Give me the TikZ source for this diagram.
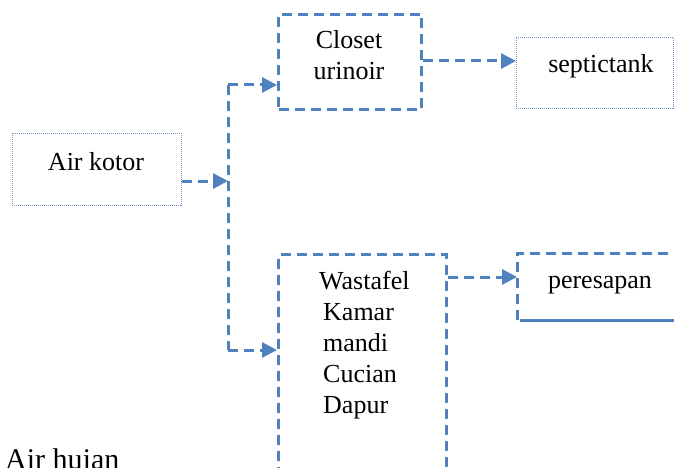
\documentclass[tikz,border=0pt]{standalone}
\usepackage{fontspec}
\setmainfont{Liberation Serif}
\usetikzlibrary{arrows.meta,positioning}
\definecolor{garis}{RGB}{79,129,189}
\definecolor{titikbiru}{RGB}{110,150,200}
\tikzset{
	teks/.style={font=\fontsize{26}{31}\selectfont,inner sep=0pt},
	titik/.style={draw=titikbiru,line width=0.9pt,dash pattern=on 1pt off 1pt,anchor=north west},
	putus/.style={draw=garis,line width=3pt,dash pattern=on 10pt off 6pt},
	kotak/.style={putus,anchor=north west},
	alir/.style={putus,-{Triangle[length=15pt,width=15pt]}}
}
\begin{document}
\begin{tikzpicture}[x=1pt,y=-1pt,line cap=butt]
	\clip (0,0) rectangle (674,468);
	% kotak-kotak
	\node[titik,minimum width=169pt,minimum height=72pt] (kotor) at (12,133) {};
	\node[kotak,minimum width=143pt,minimum height=95pt] (closet) at (277,13) {};
	\node[titik,minimum width=157pt,minimum height=71pt] (septic) at (516,37) {};
	\node[kotak,minimum width=168pt,minimum height=300pt] (cuci) at (277,253) {};
	\node[anchor=north west,minimum width=200pt,minimum height=67pt,inner sep=0pt] (resap) at (517,253) {};
	\draw[putus] (resap.south west) -- (resap.north west) -- (resap.north east);
	\draw[garis,line width=2.6pt] ([xshift=3pt]resap.south west) -- (resap.south east);
	% teks
	\node[teks,anchor=base] (tkotor) at (96,170) {Air kotor};
	\node[teks,anchor=base,align=center] (tcloset) at (349,80) {Closet\\urinoir};
	\node[teks,anchor=base] (tseptic) at (601,73) {septictank};
	\node[teks,anchor=base] (tresap) at (600,288) {peresapan};
	\node[teks,anchor=base west,align=left] (tcuci) at (319,413) {Wastafel\\\hspace*{4pt}Kamar\\\hspace*{4pt}mandi\\\hspace*{4pt}Cucian\\\hspace*{4pt}Dapur};
	\node[anchor=base west,inner sep=0pt,font=\fontsize{30}{36}\selectfont] (hujan) at (5,469) {Air hujan};
	% garis alir
	\coordinate (cabang) at (228,181);
	\coordinate (atas) at (228,85);
	\coordinate (bawah) at (228,350);
	\draw[putus] (atas) -- (bawah);
	\draw[alir] (kotor.east |- cabang) -- (cabang);
	\draw[alir] (atas) -- (atas -| closet.west);
	\draw[alir] (bawah) -- (bawah -| cuci.west);
	\draw[alir] (closet.east |- 0,61) -- (septic.west |- 0,61);
	\draw[alir] (cuci.east |- 0,277) -- (resap.west |- 0,277);
\end{tikzpicture}
\end{document}
